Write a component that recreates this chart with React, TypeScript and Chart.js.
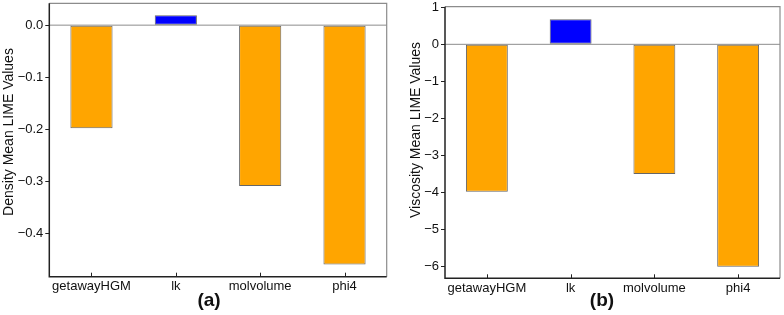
import React, { useEffect, useRef } from "react";
import { Chart, registerables } from "chart.js";

Chart.register(...registerables);

const categories = ["getawayHGM", "lk", "molvolume", "phi4"];
const densityValues = [-0.198, 0.019, -0.309, -0.46];
const viscosityValues = [-3.98, 0.68, -3.5, -6.01];

const densityTicks = [0, -0.1, -0.2, -0.3, -0.4];
const densityTickLabels = ["0.0", "\u22120.1", "\u22120.2", "\u22120.3", "\u22120.4"];
const viscosityTicks = [1, 0, -1, -2, -3, -4, -5, -6];
const viscosityTickLabels = ["1", "0", "\u22121", "\u22122", "\u22123", "\u22124", "\u22125", "\u22126"];

const FONT = "'Liberation Sans', Arial, sans-serif";
const ORANGE = "#FFA500";
const BLUE = "#0000FF";

type PanelCfg = {
  values: number[];
  ticks: number[];
  tickLabels: string[];
  yMin: number;
  yMax: number;
  yTitle: string;
  panelLabel: string;
  padLeft: number;
  padRight: number;
  padTop: number;
  yWidth: number;
  xHeight: number;
  labelShift: number;
  titleX: number;
  titleY: number;
};

function makeChart(canvas: HTMLCanvasElement, cfg: PanelCfg) {
  const framePlugin = {
    id: "frame",
    beforeDatasetsDraw(chart: any) {
      const { ctx, chartArea } = chart;
      const y = chart.scales.y;
      const y0 = y.getPixelForValue(0);
      ctx.save();
      ctx.strokeStyle = "#8c8c8c";
      ctx.lineWidth = 1;
      ctx.beginPath();
      ctx.moveTo(chartArea.left, y0);
      ctx.lineTo(chartArea.right, y0);
      ctx.stroke();
      ctx.restore();
    },
    afterDraw(chart: any) {
      const { ctx, chartArea } = chart;
      const { left, right, top, bottom } = chartArea;
      ctx.save();
      ctx.strokeStyle = "#8c8c8c";
      ctx.lineWidth = 1.2;
      ctx.beginPath();
      ctx.moveTo(left, top);
      ctx.lineTo(right, top);
      ctx.lineTo(right, bottom);
      ctx.stroke();
      ctx.strokeStyle = "#222";
      ctx.lineWidth = 1.5;
      ctx.beginPath();
      ctx.moveTo(left, top);
      ctx.lineTo(left, bottom);
      ctx.lineTo(right, bottom);
      ctx.stroke();
      // inward x ticks
      const xs = chart.scales.x;
      ctx.strokeStyle = "#222";
      ctx.lineWidth = 1;
      xs.ticks.forEach((_: any, i: number) => {
        const px = Math.round(xs.getPixelForTick(i)) + 0.5;
        ctx.beginPath();
        ctx.moveTo(px, bottom);
        ctx.lineTo(px, bottom - 4);
        ctx.stroke();
      });
      // y axis title
      ctx.fillStyle = "#111";
      ctx.font = `14px ${FONT}`;
      ctx.textAlign = "center";
      ctx.textBaseline = "middle";
      ctx.save();
      ctx.translate(cfg.titleX, cfg.titleY);
      ctx.rotate(-Math.PI / 2);
      ctx.fillText(cfg.yTitle, 0, 0);
      ctx.restore();
      // panel label
      ctx.font = `bold 19px ${FONT}`;
      ctx.fillText(cfg.panelLabel, (left + right) / 2 + cfg.labelShift, 301);
      ctx.restore();
    },
  };

  return new Chart(canvas, {
    type: "bar",
    data: {
      labels: categories,
      datasets: [
        {
          data: cfg.values,
          backgroundColor: cfg.values.map((v) => (v < 0 ? ORANGE : BLUE)),
          borderColor: "#666666",
          borderWidth: 1,
          borderSkipped: false,
          barPercentage: 0.5,
          categoryPercentage: 1.0,
        },
      ],
    },
    options: {
      animation: false,
      responsive: false,
      layout: {
        padding: { left: cfg.padLeft, right: cfg.padRight, top: cfg.padTop, bottom: 0 },
      },
      plugins: {
        legend: { display: false },
        tooltip: { enabled: false },
        title: { display: false },
      },
      scales: {
        x: {
          type: "category",
          offset: true,
          grid: { display: false, drawTicks: false },
          border: { display: false },
          ticks: {
            color: "#111",
            font: { family: FONT, size: 13 },
            padding: 2,
            maxRotation: 0,
            autoSkip: false,
          },
          afterFit(scale: any) {
            scale.height = cfg.xHeight;
            scale.paddingLeft = 0;
            scale.paddingRight = 0;
            scale.paddingTop = 0;
            scale.paddingBottom = 0;
          },
        },
        y: {
          type: "linear",
          min: cfg.yMin,
          max: cfg.yMax,
          grid: {
            display: true,
            drawOnChartArea: false,
            drawTicks: true,
            tickLength: 4,
            tickColor: "#222",
            tickWidth: 1,
          },
          border: { display: false },
          ticks: {
            color: "#111",
            font: { family: FONT, size: 13 },
            padding: 2,
            callback: (value: any) => {
              const idx = cfg.ticks.findIndex((t) => Math.abs(t - Number(value)) < 1e-9);
              return idx >= 0 ? cfg.tickLabels[idx] : "";
            },
          },
          afterBuildTicks(scale: any) {
            scale.ticks = cfg.ticks.map((v) => ({ value: v }));
          },
          title: { display: false },
          afterFit(scale: any) {
            scale.width = cfg.yWidth;
            scale.paddingLeft = 0;
            scale.paddingRight = 0;
            scale.paddingTop = 0;
            scale.paddingBottom = 0;
          },
        },
      },
    },
    plugins: [framePlugin],
  });
}

export default function App() {
  const leftRef = useRef<HTMLCanvasElement>(null);
  const rightRef = useRef<HTMLCanvasElement>(null);

  useEffect(() => {
    const c1 = makeChart(leftRef.current!, {
      values: densityValues,
      ticks: densityTicks,
      tickLabels: densityTickLabels,
      yMin: -0.4835,
      yMax: 0.042,
      yTitle: "Density Mean LIME Values",
      panelLabel: "(a)",
      padLeft: 0,
      padRight: 5.3,
      padTop: 3.3,
      yWidth: 49.3,
      xHeight: 38.3,
      labelShift: -9,
      titleX: 9,
      titleY: 132,
    });
    const c2 = makeChart(rightRef.current!, {
      values: viscosityValues,
      ticks: viscosityTicks,
      tickLabels: viscosityTickLabels,
      yMin: -6.32,
      yMax: 1.016,
      yTitle: "Viscosity Mean LIME Values",
      panelLabel: "(b)",
      padLeft: 0,
      padRight: 4,
      padTop: 6.7,
      yWidth: 53,
      xHeight: 36.7,
      labelShift: -10.5,
      titleX: 24,
      titleY: 130,
    });
    return () => {
      c1.destroy();
      c2.destroy();
    };
  }, []);

  return (
    <div style={{ position: "absolute", left: 0, top: 0, width: 784, height: 315, background: "#fff" }}>
      <canvas ref={leftRef} width={392} height={315} style={{ position: "absolute", left: 0, top: 0 }} />
      <canvas ref={rightRef} width={392} height={315} style={{ position: "absolute", left: 392, top: 0 }} />
    </div>
  );
}
